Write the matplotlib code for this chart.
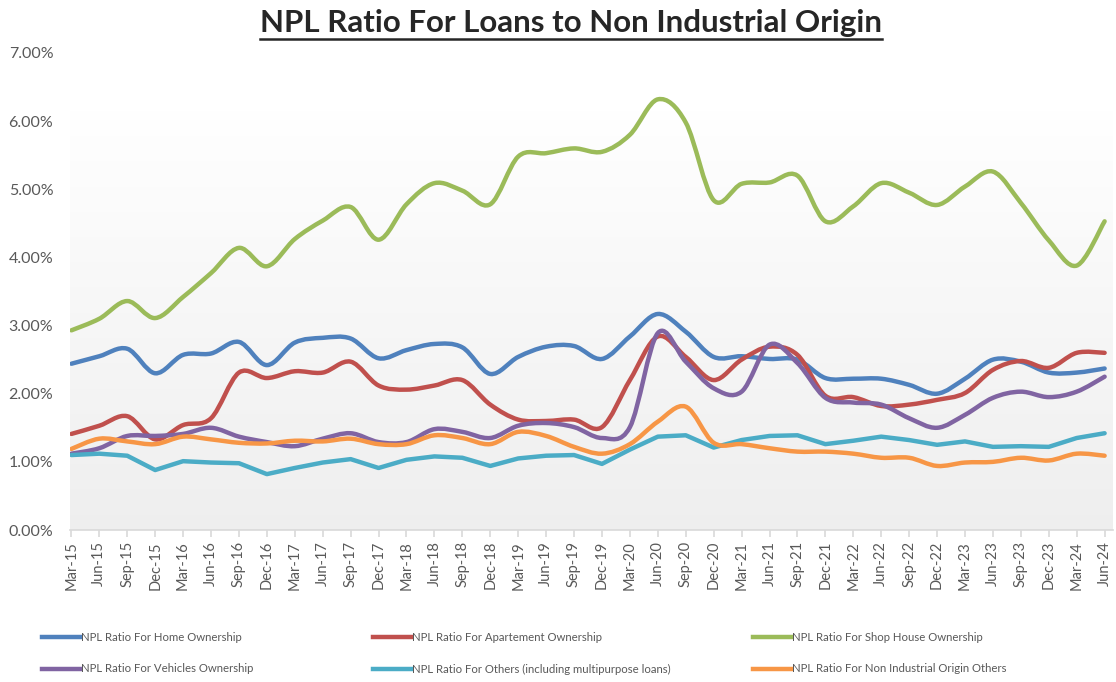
import numpy as np
import matplotlib
matplotlib.use("Agg")
import matplotlib.pyplot as plt
from matplotlib.path import Path
from matplotlib.patches import PathPatch
from matplotlib.lines import Line2D
from matplotlib.ticker import FuncFormatter

# ----------------------------
# Data (NPL ratio, %)
# ----------------------------
quarters = ["Mar-15", "Jun-15", "Sep-15", "Dec-15", "Mar-16", "Jun-16", "Sep-16", "Dec-16",
            "Mar-17", "Jun-17", "Sep-17", "Dec-17", "Mar-18", "Jun-18", "Sep-18", "Dec-18",
            "Mar-19", "Jun-19", "Sep-19", "Dec-19", "Mar-20", "Jun-20", "Sep-20", "Dec-20",
            "Mar-21", "Jun-21", "Sep-21", "Dec-21", "Mar-22", "Jun-22", "Sep-22", "Dec-22",
            "Mar-23", "Jun-23", "Sep-23", "Dec-23", "Mar-24", "Jun-24"]

home = [2.44, 2.55, 2.66, 2.30, 2.57, 2.59, 2.76, 2.42, 2.75, 2.82, 2.81, 2.52, 2.64,
        2.73, 2.68, 2.29, 2.54, 2.69, 2.70, 2.51, 2.84, 3.17, 2.91, 2.54, 2.55, 2.51,
        2.50, 2.23, 2.22, 2.22, 2.13, 2.00, 2.22, 2.50, 2.47, 2.31, 2.31, 2.37]

apartment = [1.41, 1.53, 1.67, 1.33, 1.54, 1.64, 2.31, 2.23, 2.33, 2.31, 2.47, 2.12, 2.06,
             2.12, 2.20, 1.84, 1.62, 1.60, 1.62, 1.51, 2.20, 2.84, 2.54, 2.20, 2.50, 2.69,
             2.57, 1.97, 1.95, 1.82, 1.84, 1.91, 2.01, 2.35, 2.48, 2.38, 2.60, 2.60]

shop_house = [2.93, 3.10, 3.36, 3.11, 3.42, 3.77, 4.14, 3.87, 4.27, 4.54, 4.74, 4.26, 4.78,
              5.09, 4.98, 4.78, 5.48, 5.53, 5.60, 5.55, 5.80, 6.32, 5.98, 4.84, 5.08, 5.10,
              5.20, 4.53, 4.75, 5.09, 4.95, 4.77, 5.04, 5.26, 4.80, 4.25, 3.88, 4.53]

vehicles = [1.12, 1.20, 1.38, 1.38, 1.41, 1.50, 1.37, 1.29, 1.23, 1.34, 1.42, 1.29, 1.29,
            1.48, 1.44, 1.35, 1.53, 1.57, 1.51, 1.35, 1.51, 2.89, 2.47, 2.08, 2.03, 2.72,
            2.45, 1.94, 1.87, 1.84, 1.64, 1.50, 1.69, 1.94, 2.03, 1.95, 2.03, 2.25]

others = [1.10, 1.12, 1.09, 0.88, 1.01, 0.99, 0.98, 0.82, 0.91, 0.99, 1.04, 0.91, 1.03,
          1.08, 1.06, 0.94, 1.05, 1.09, 1.10, 0.97, 1.18, 1.37, 1.39, 1.21, 1.32, 1.38,
          1.39, 1.26, 1.31, 1.37, 1.32, 1.25, 1.30, 1.22, 1.23, 1.22, 1.35, 1.42]

non_ind_others = [1.19, 1.34, 1.30, 1.26, 1.37, 1.33, 1.28, 1.27, 1.31, 1.30, 1.34, 1.26, 1.26,
                  1.39, 1.35, 1.26, 1.44, 1.38, 1.22, 1.12, 1.26, 1.59, 1.81, 1.28, 1.26, 1.20,
                  1.15, 1.15, 1.12, 1.06, 1.06, 0.94, 0.99, 1.00, 1.06, 1.02, 1.12, 1.09]

labels = ["NPL Ratio For Home Ownership",
          "NPL Ratio For Apartement Ownership",
          "NPL Ratio For Shop House Ownership",
          "NPL Ratio For Vehicles Ownership",
          "NPL Ratio For Others (including multipurpose loans)",
          "NPL Ratio For Non Industrial Origin Others"]

series = [home, apartment, shop_house, vehicles, others, non_ind_others]
colors = ["#4F81BD", "#C0504D", "#9BBB59", "#8064A2", "#4BACC6", "#F79646"]
smooth = [True, True, True, True, False, True]

plt.rcParams["font.family"] = ["Lato", "DejaVu Sans"]
TXT = "#595959"


def smooth_path(x, y):
    # Excel-like smoothed line: cubic Bezier through every point
    pts = np.column_stack([x, y])
    n = len(pts)
    verts = [pts[0]]
    codes = [Path.MOVETO]
    for i in range(n - 1):
        p0 = pts[i - 1] if i > 0 else pts[i]
        p1 = pts[i]
        p2 = pts[i + 1]
        p3 = pts[i + 2] if i + 2 < n else pts[i + 1]
        c1 = p1 + (p2 - p0) / 6.0
        c2 = p2 - (p3 - p1) / 6.0
        verts += [c1, c2, p2]
        codes += [Path.CURVE4] * 3
    return Path(verts, codes)


fig = plt.figure(figsize=(11.16, 6.82), dpi=100)
ax = fig.add_axes([70 / 1116, 1 - 530 / 682, 1043 / 1116, 477 / 682])

# plot area gradient
grad = np.linspace(0.935, 1.0, 256).reshape(-1, 1)
ax.imshow(np.dstack([grad, grad, grad]), extent=[0, 1, 0, 0.88], transform=ax.transAxes,
          aspect="auto", origin="lower", zorder=0)

x = np.arange(len(quarters))
for vals, col, sm in zip(series, colors, smooth):
    if sm:
        ax.add_patch(PathPatch(smooth_path(x, np.array(vals)), fill=False, edgecolor=col,
                               lw=3.2, capstyle="round", joinstyle="round", zorder=3))
    else:
        ax.plot(x, vals, color=col, lw=3.2, solid_capstyle="round", zorder=3)

ax.set_xlim(-0.05, 37.3)
ax.set_ylim(0, 7)
ax.set_yticks(np.arange(0, 8))
ax.yaxis.set_major_formatter(FuncFormatter(lambda v, p: f"{v:.2f}%"))
ax.set_xticks(x)
ax.set_xticklabels(quarters, rotation=90)

for s in ["top", "right", "left"]:
    ax.spines[s].set_visible(False)
ax.spines["bottom"].set_color("#d9d9d9")
ax.spines["bottom"].set_linewidth(1.2)
ax.tick_params(axis="y", length=0, pad=12, labelsize=11.5, labelcolor=TXT)
ax.tick_params(axis="x", length=5, color="#d9d9d9", width=1.2, pad=3, labelsize=10.5, labelcolor=TXT)

# title with underline
t = fig.text(571 / 1116, 1 - 23 / 682, "NPL Ratio For Loans to Non Industrial Origin",
             ha="center", va="center", fontsize=22.5, fontweight="bold", color="#262626")
fig.canvas.draw()
bb = t.get_window_extent().transformed(fig.transFigure.inverted())
fig.add_artist(Line2D([bb.x0, bb.x1], [1 - 39 / 682, 1 - 39 / 682], color="#262626", lw=1.8))

# legend, three columns of two rows
handles = [Line2D([], [], color=c, lw=3.2) for c in colors]
col_x = [42, 373, 753]
for k in range(3):
    leg = fig.legend([handles[k], handles[k + 3]], [labels[k], labels[k + 3]],
                     loc="upper left", bbox_to_anchor=(col_x[k] / 1116, 1 - 632 / 682),
                     frameon=False, fontsize=8.2, handlelength=3.3, handletextpad=0.15,
                     labelspacing=1.8, borderpad=0, borderaxespad=0)
    for txt in leg.get_texts():
        txt.set_color(TXT)

fig.savefig("out.png", dpi=100)
